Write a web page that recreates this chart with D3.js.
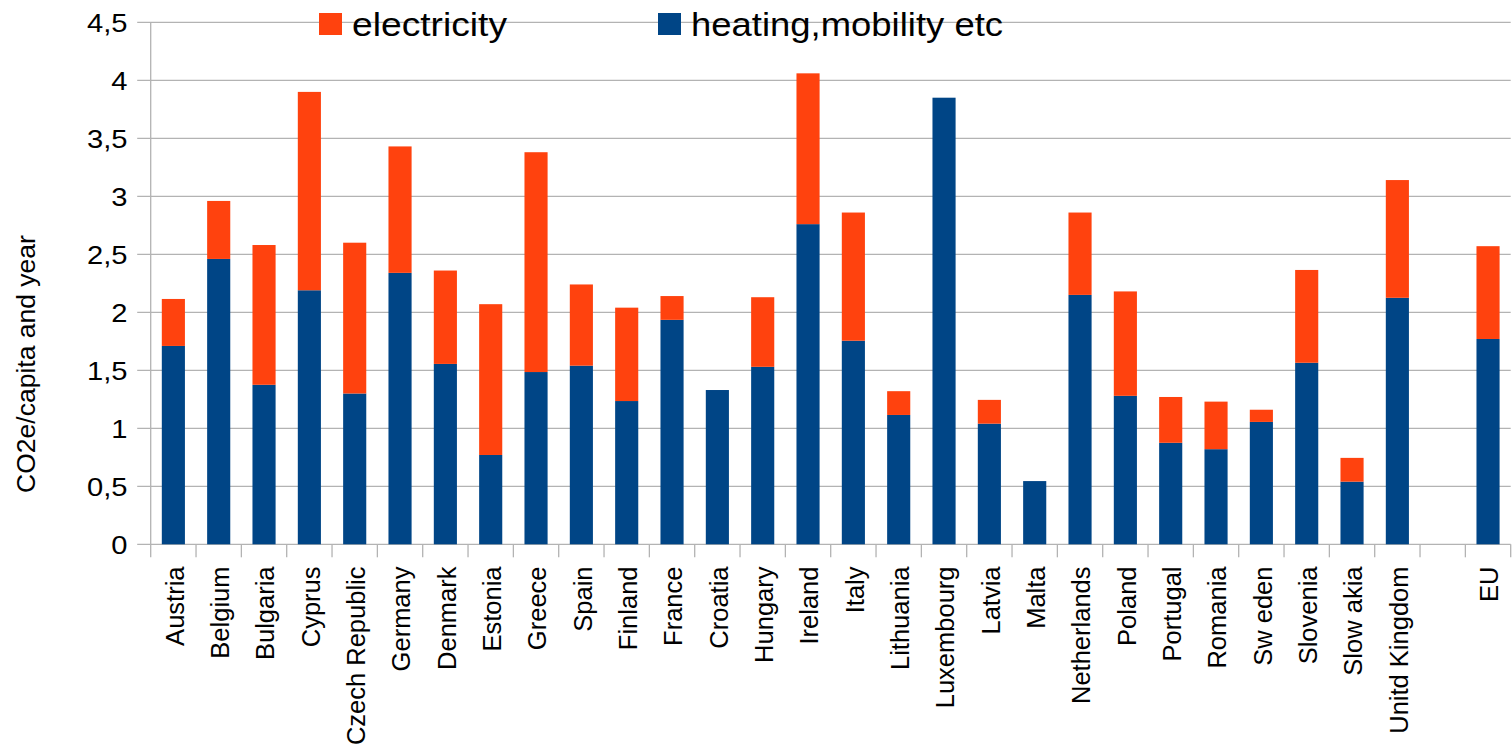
<!DOCTYPE html>
<html>
<head>
<meta charset="utf-8">
<script src="https://cdn.jsdelivr.net/npm/d3@7"></script>
<style>
  html, body { margin: 0; padding: 0; background: #fff; }
  svg { display: block; }
  text { font-family: "Liberation Sans", Arial, sans-serif; fill: #000; }
</style>
</head>
<body>
<svg id="chart" width="1512" height="745"></svg>
<script>
const categories = ["Austria","Belgium","Bulgaria","Cyprus","Czech Republic","Germany","Denmark","Estonia","Greece","Spain","Finland","France","Croatia","Hungary","Ireland","Italy","Lithuania","Luxembourg","Latvia","Malta","Netherlands","Poland","Portugal","Romania","Sw eden","Slovenia","Slow akia","Unitd Kingdom","","EU"];
const heating = [1.71,2.46,1.375,2.19,1.30,2.34,1.555,0.77,1.485,1.54,1.235,1.935,1.33,1.53,2.76,1.755,1.115,3.85,1.04,0.545,2.15,1.28,0.875,0.82,1.055,1.565,0.54,2.125,0,1.77];
const electricity = [0.405,0.50,1.205,1.71,1.30,1.09,0.805,1.30,1.895,0.70,0.805,0.205,0,0.60,1.30,1.105,0.205,0,0.205,0,0.71,0.90,0.395,0.41,0.105,0.80,0.205,1.015,0,0.80];
const yTicks = [0,0.5,1,1.5,2,2.5,3,3.5,4,4.5];
const seriesNames = ["electricity","heating,mobility etc"];
const colors = {heating: "#004586", electricity: "#ff420e"};
const yTitle = "CO2e/capita and year";

const svg = d3.select("#chart");
const m = {left: 150.7, right: 1.3, top: 22.3, bottom: 200.7};
const W = 1512, H = 745;
const x = d3.scaleBand().domain(d3.range(categories.length)).range([m.left, W - m.right]).paddingInner(0.49).paddingOuter(0.245);
const slot = d3.scaleBand().domain(d3.range(categories.length)).range([m.left, W - m.right]);
const y = d3.scaleLinear().domain([0, 4.5]).range([H - m.bottom, m.top]);
const fmt = d => String(d).replace(".", ",");
const grid = "#b3b3b3";

// gridlines
svg.append("g").selectAll("line").data(yTicks).join("line")
  .attr("x1", m.left - 13.5).attr("x2", W - m.right)
  .attr("y1", d => y(d)).attr("y2", d => y(d))
  .attr("stroke", grid).attr("stroke-width", 1.3);

// y tick labels
svg.append("g").selectAll("text").data(yTicks).join("text")
  .attr("transform", d => `translate(127.5,${y(d)}) scale(1.1,1)`)
  .attr("dy", "0.36em")
  .attr("text-anchor", "end").attr("font-size", 26.5)
  .text(fmt);

// y axis line
svg.append("line").attr("x1", m.left).attr("x2", m.left)
  .attr("y1", m.top).attr("y2", y(0) + 13)
  .attr("stroke", grid).attr("stroke-width", 1.3);

// x ticks at slot boundaries
const bounds = d3.range(1, categories.length + 1).map(i => i === categories.length ? W - m.right : slot(i));
svg.append("g").selectAll("line").data(bounds).join("line")
  .attr("x1", d => d).attr("x2", d => d)
  .attr("y1", y(0)).attr("y2", y(0) + 13)
  .attr("stroke", grid).attr("stroke-width", 1.3);

// bars
const data = categories.map((c, i) => ({i, c, h: heating[i], e: electricity[i]}));
svg.append("g").selectAll("rect").data(data.filter(d => d.h > 0)).join("rect")
  .attr("x", d => x(d.i)).attr("width", x.bandwidth())
  .attr("y", d => y(d.h)).attr("height", d => y(0) - y(d.h))
  .attr("fill", colors.heating);
svg.append("g").selectAll("rect").data(data.filter(d => d.e > 0)).join("rect")
  .attr("x", d => x(d.i)).attr("width", x.bandwidth())
  .attr("y", d => y(d.h + d.e)).attr("height", d => y(d.h) - y(d.h + d.e))
  .attr("fill", colors.electricity);

// x labels
svg.append("g").selectAll("text").data(data).join("text")
  .attr("transform", d => `translate(${slot(d.i) + slot.bandwidth()/2 + 1},566.5) rotate(-90)`)
  .attr("dy", "0.36em").attr("text-anchor", "end").attr("font-size", 25.5)
  .text(d => d.c);

// y title
svg.append("text").attr("transform", "translate(25,364) rotate(-90)")
  .attr("dy", "0.36em").attr("text-anchor", "middle").attr("font-size", 26.5)
  .text(yTitle);

// legend
const leg = [
  {name: seriesNames[0], color: colors.electricity, x: 319, w: 155},
  {name: seriesNames[1], color: colors.heating, x: 658, w: 312}
];
const lg = svg.append("g").selectAll("g").data(leg).join("g");
lg.append("rect").attr("x", d => d.x).attr("y", 13).attr("width", 23).attr("height", 22).attr("fill", d => d.color);
lg.append("text").attr("x", d => d.x + 33).attr("y", 36).attr("font-size", 33)
  .attr("textLength", d => d.w).attr("lengthAdjust", "spacingAndGlyphs")
  .text(d => d.name);
</script>
</body>
</html>
